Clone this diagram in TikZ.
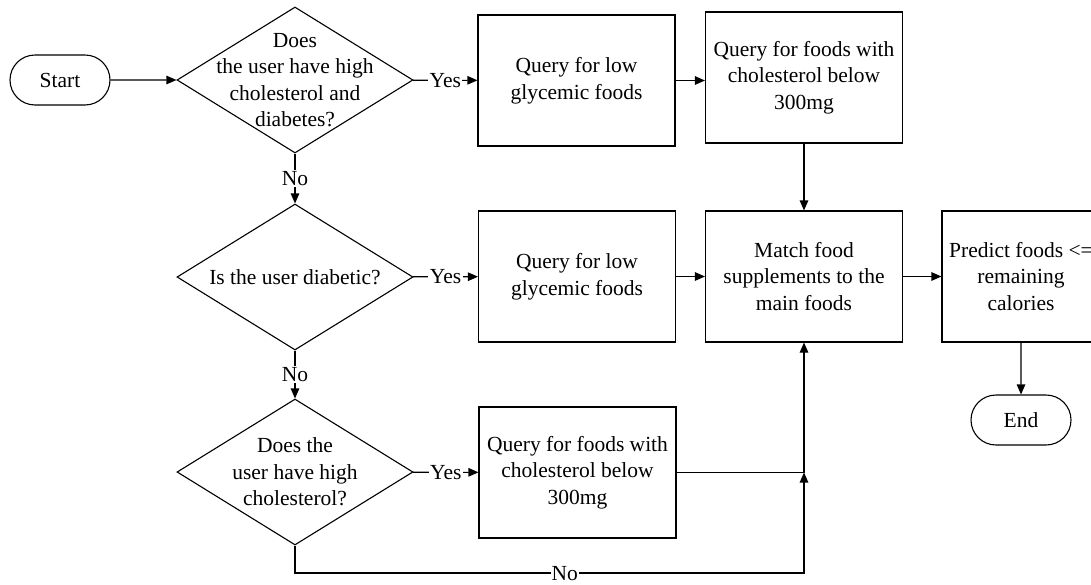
\documentclass[tikz,border=0pt]{standalone}
\usepackage{fontspec}
\setmainfont{Liberation Serif}
\usetikzlibrary{shapes.geometric,shapes.misc,arrows.meta}
\begin{document}
\begin{tikzpicture}[x=1pt,y=-1pt,
 every node/.style={font=\fontsize{21.5}{26.5}\selectfont},
 box/.style={draw, line width=1.1pt, minimum width=197pt, minimum height=131pt, align=center, inner sep=0pt},
 term/.style={draw, rounded rectangle, line width=1.1pt, minimum width=100pt, minimum height=50pt, inner sep=0pt},
 dec/.style={draw, diamond, line width=1.1pt, minimum width=236pt, minimum height=146pt, inner sep=0pt},
 txt/.style={align=center, inner sep=0pt},
 lab/.style={fill=white, inner sep=1.5pt},
 arr/.style={line width=1.1pt, -{Triangle[length=10pt,width=8.5pt]}}]
\useasboundingbox (0,0) rectangle (1091,584);
\clip (0,0) rectangle (1091,584);

\node[term] (start) at (60,80) {Start};
\node[dec] (d1) at (295,80) {};
\node[txt] (t1) at (d1.center) {Does\\the user have high\\cholesterol and\\diabetes?};
\node[box] (q1) at (576.5,80.5) {Query for low\\glycemic foods};
\node[box] (q2) at (804,77.5) {Query for foods with\\cholesterol below\\300mg};

\node[dec] (d2) at (295,277) {};
\node[txt] (t2) at (d2.center) {Is the user diabetic?};
\node[box] (q3) at (577,276.5) {Query for low\\glycemic foods};
\node[box] (m) at (804,276.5) {Match food\\supplements to the\\main foods};
\node[box, minimum width=158pt] (p) at (1021,276.5) {Predict foods <=\\remaining\\calories};
\node[term] (end) at (1021,420) {End};

\node[dec] (d3) at (295,472) {};
\node[txt] (t3) at (d3.center) {Does the\\user have high\\cholesterol?};
\node[box] (q4) at (577.5,472.5) {Query for foods with\\cholesterol below\\300mg};

\coordinate (b) at (295,573);

\draw[arr] (start) -- (d1);
\draw[arr] (d1) -- node[lab]{Yes} (q1);
\draw[arr] (q1.east) -- (q1.east -| q2.west);
\draw[arr] (q2) -- (m);
\draw[arr] (d1) -- node[lab]{No} (d2);
\draw[arr] (d2) -- node[lab]{Yes} (q3);
\draw[arr] (q3) -- (m);
\draw[arr] (m) -- (p);
\draw[arr] (p) -- (end);
\draw[arr] (d2) -- node[lab]{No} (d3);
\draw[arr] (d3) -- node[lab]{Yes} (q4);
\draw[arr] (q4.east) -- (q4.east -| m.south) -- (m.south);
\draw[arr] (d3.south) -- (b) -- node[lab, pos=0.53, inner sep=1pt, text depth=0pt]{No} (b -| m.south) -- (q4.east -| m.south);
\end{tikzpicture}
\end{document}
